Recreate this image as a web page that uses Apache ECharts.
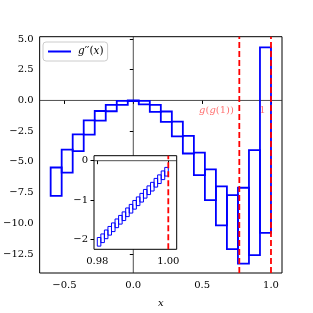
<!DOCTYPE html>
<html><head><meta charset="utf-8">
<script src="https://cdn.jsdelivr.net/npm/echarts@6/dist/echarts.min.js"></script>
<style>html,body{margin:0;padding:0;background:#fff}#c{width:313px;height:313px}</style>
</head><body><div id="c"></div>
<script>
// ---- data ----
const seriesName = "g''(x)";
const mainEdges = [-0.6,-0.52,-0.44,-0.36,-0.28,-0.2,-0.12,-0.04,0.04,0.12,0.2,0.28,0.36,0.44,0.52,0.6,0.68,0.76,0.84,0.92,1.0];
const mainLow  = [-7.77,-5.87,-4.13,-2.78,-1.64,-0.88,-0.36,-0.06,-0.32,-0.93,-1.74,-2.93,-4.32,-6.08,-8.12,-10.18,-12.11,-13.28,-12.6,-10.78];
const mainHigh = [-5.46,-4.0,-2.77,-1.62,-0.86,-0.36,-0.04,0.0,-0.03,-0.36,-0.9,-1.72,-2.88,-4.25,-5.62,-7.0,-7.71,-7.11,-4.05,4.32];
const insetEdges = [0.980,0.981,0.982,0.983,0.984,0.985,0.986,0.987,0.988,0.989,0.990,0.991,0.992,0.993,0.994,0.995,0.996,0.997,0.998,0.999,1.000];
const insetLow  = [-2.17,-2.08,-1.98,-1.89,-1.80,-1.70,-1.61,-1.52,-1.42,-1.33,-1.23,-1.14,-1.05,-0.95,-0.86,-0.77,-0.67,-0.58,-0.48,-0.39];
const insetHigh = [-1.95,-1.86,-1.76,-1.67,-1.58,-1.48,-1.39,-1.30,-1.20,-1.11,-1.01,-0.92,-0.83,-0.73,-0.64,-0.55,-0.45,-0.36,-0.26,-0.17];
const vLines = [0.77, 1.0];
const annotations = [[0.745, -0.8, 'g(g(1))'], [0.975, -0.8, '1']];
const mainXTicks = [-0.5, 0.0, 0.5, 1.0];
const mainYTicks = [-12.5, -10.0, -7.5, -5.0, -2.5, 0.0, 2.5, 5.0];
const insetXTicks = [0.98, 1.00];
const insetYTicks = [-2, -1, 0];
const mainXRange = [-0.68, 1.08];
const mainYRange = [-14.05, 5.19];
const insetXRange = [0.97907, 1.00237];
const insetYRange = [-2.25, 0.127];

// ---- build ----
const boxes = (edges, lo, hi) => lo.map((v, i) => [edges[i], edges[i + 1], v, hi[i]]);
const FONT = 'DejaVu Serif';
const minus = s => s.replace('-', '\u2212');
function boxRender(lw) {
  return function (params, api) {
    const p0 = api.coord([api.value(0), api.value(3)]);
    const p1 = api.coord([api.value(1), api.value(2)]);
    return { type: 'rect', shape: { x: p0[0], y: p0[1], width: p1[0] - p0[0], height: p1[1] - p0[1] },
      style: { fill: 'none', stroke: '#0000ff', lineWidth: lw } };
  };
}
const refLine = (gi, pts, color, width, type, z) => ({
  type: 'line', xAxisIndex: gi, yAxisIndex: gi, data: pts, z: z, silent: true, clip: true,
  symbol: 'none', showSymbol: false, lineStyle: { color: color, width: width, type: type } });
const vLine = (gi, x, yr, color, width, type, z) => refLine(gi, [[x, yr[0]], [x, yr[1]]], color, width, type, z);
const hLine = (gi, y, xr, color, width, type, z) => refLine(gi, [[xr[0], y], [xr[1], y]], color, width, type, z);
const tickLabel = (vals, fmt) => ({ customValues: vals, formatter: v => minus(fmt(v)), fontFamily: FONT, fontSize: 10, color: '#000' });
const chart = echarts.init(document.getElementById('c'), null, { renderer: 'canvas' });
chart.setOption({
  animation: false,
  backgroundColor: '#fff',
  grid: [
    { left: 39, right: 31, top: 36.7, bottom: 39.7, show: true, borderColor: '#000', borderWidth: 1, backgroundColor: '#fff', z: 0 },
    { left: 94, right: 136.3, top: 155.7, bottom: 63.7, show: true, borderColor: '#000', borderWidth: 1, backgroundColor: '#fff', z: 10 }
  ],
  legend: {
    left: 43, top: 42, orient: 'vertical',
    padding: [4, 4, 4, 5], itemWidth: 23, itemHeight: 2, itemGap: 0,
    borderColor: '#cccccc', borderWidth: 1, borderRadius: 3, backgroundColor: 'rgba(255,255,255,0.8)',
    data: [{ name: seriesName, icon: 'rect', itemStyle: { color: '#0000ff' } }],
    formatter: () => '{i|g}{n|\u2032\u2032(}{i|x}{n|)}',
    textStyle: { padding: [0, 0, 0, 2], rich: {
      i: { fontFamily: FONT, fontStyle: 'italic', fontSize: 10.5, color: '#000' },
      n: { fontFamily: FONT, fontSize: 10.5, color: '#000' } } }
  },
  xAxis: [
    { type: 'value', gridIndex: 0, min: mainXRange[0], max: mainXRange[1], z: 0,
      axisLine: { show: false }, splitLine: { show: false },
      axisTick: { show: true, customValues: mainXTicks, length: 3.5, lineStyle: { color: '#000' } },
      axisLabel: Object.assign(tickLabel(mainXTicks, v => v.toFixed(1)), { margin: 7 }),
      name: 'x', nameLocation: 'middle', nameGap: 25,
      nameTextStyle: { fontFamily: FONT, fontStyle: 'italic', fontSize: 10, color: '#000' } },
    { type: 'value', gridIndex: 1, min: insetXRange[0], max: insetXRange[1], z: 11,
      axisLine: { show: false }, splitLine: { show: false },
      axisTick: { show: true, customValues: insetXTicks, length: 3.5, lineStyle: { color: '#000' } },
      axisLabel: Object.assign(tickLabel(insetXTicks, v => v.toFixed(2)), { margin: 7 }) }
  ],
  yAxis: [
    { type: 'value', gridIndex: 0, min: mainYRange[0], max: mainYRange[1], z: 0,
      axisLine: { show: false }, splitLine: { show: false },
      axisTick: { show: true, customValues: mainYTicks, length: 3.5, lineStyle: { color: '#000' } },
      axisLabel: Object.assign(tickLabel(mainYTicks, v => v.toFixed(1)), { margin: 6 }) },
    { type: 'value', gridIndex: 1, min: insetYRange[0], max: insetYRange[1], z: 11,
      axisLine: { show: false }, splitLine: { show: false },
      axisTick: { show: true, customValues: insetYTicks, length: 3.5, lineStyle: { color: '#000' } },
      axisLabel: Object.assign(tickLabel(insetYTicks, v => String(v)), { margin: 6 }) }
  ],
  series: [
    vLine(0, 0, mainYRange, '#222', 0.8, 'solid', 1),
    hLine(0, 0, mainXRange, '#222', 0.8, 'solid', 1),
    { name: seriesName, type: 'custom', xAxisIndex: 0, yAxisIndex: 0, z: 2, clip: true,
      itemStyle: { color: '#0000ff' },
      renderItem: boxRender(1.8), encode: { x: [0, 1], y: [2, 3] },
      data: boxes(mainEdges, mainLow, mainHigh) },
    vLine(0, vLines[0], mainYRange, '#ff0000', 1.8, [6, 3], 3),
    vLine(0, vLines[1], mainYRange, '#ff0000', 1.8, [6, 3], 3),
    { type: 'scatter', xAxisIndex: 0, yAxisIndex: 0, z: 4, symbolSize: 0, silent: true,
      data: annotations.map(a => ({ value: [a[0], a[1]], name: a[2] })),
      label: { show: true, position: 'left', distance: 2,
        formatter: p => p.name === '1' ? '{n|1}' : '{i|g}{n|(}{i|g}{n|(1))}',
        rich: { i: { fontFamily: FONT, fontStyle: 'italic', fontSize: 10, color: 'rgba(255,0,0,0.7)' },
                n: { fontFamily: FONT, fontSize: 10, color: 'rgba(255,0,0,0.7)' } } } },
    hLine(1, 0, insetXRange, '#222', 0.8, 'solid', 12),
    { type: 'custom', xAxisIndex: 1, yAxisIndex: 1, z: 13, clip: true,
      renderItem: boxRender(1), encode: { x: [0, 1], y: [2, 3] },
      data: boxes(insetEdges, insetLow, insetHigh) },
    vLine(1, vLines[1], insetYRange, '#ff0000', 1.8, [6, 3], 14)
  ]
});
</script></body></html>
